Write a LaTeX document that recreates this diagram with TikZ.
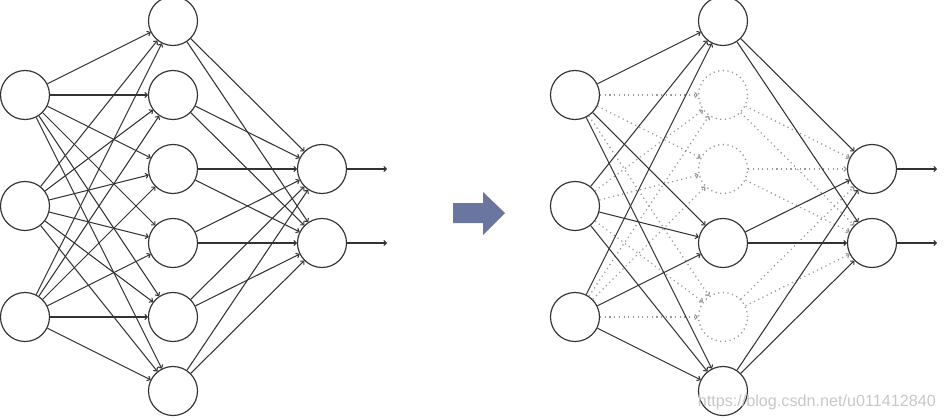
\documentclass[tikz,border=0pt]{standalone}
\usepackage{fontspec}
\setsansfont{Liberation Sans}
\usetikzlibrary{arrows.meta, positioning}
\definecolor{arrowblue}{RGB}{106,117,160}
\tikzset{
  neuron/.style={circle, draw=black!80, line width=1pt, minimum size=1.47cm, inner sep=0pt},
  dropped/.style={neuron, draw=black!40, dash pattern=on 1pt off 3pt, line width=1.2pt},
  link/.style={-{To[length=3pt,width=5pt]}, draw=black!80, line width=0.9pt},
  droplink/.style={link, draw=black!40, dash pattern=on 1pt off 3pt, line width=1.1pt},
}
\begin{document}
\begin{tikzpicture}[x=0.03cm, y=-0.03cm]
            \useasboundingbox (0,0) rectangle (944,420);
            % full network
            \foreach \n/\y in {1/95,2/206,3/317} \node[neuron] (i\n) at (25,\y) {};
            \foreach \n/\y in {1/21,2/95,3/169,4/243,5/317,6/391} \node[neuron] (h\n) at (173,\y) {};
            \foreach \n/\y in {1/169,2/243} {
                \node[neuron] (o\n) at (322,\y) {};
                \coordinate (out\n) at (387,\y);
            }
            \foreach \i in {1,2,3} \foreach \h in {1,...,6} \draw[link] (i\i) -- (h\h);
            \foreach \h in {1,...,6} \foreach \o in {1,2} \draw[link] (h\h) -- (o\o);
            \foreach \o in {1,2} \draw[link] (o\o) -- (out\o);
            % arrow
            \fill[arrowblue] (453,203) -- (483,203) -- (483,192) -- (505,213) -- (483,235) -- (483,223) -- (453,223) -- cycle;
            % thinned network (dropout)
            \foreach \n/\y in {1/95,2/206,3/317} \node[neuron] (ri\n) at (575,\y) {};
            \foreach \n/\y in {1/21,4/243,6/391} \node[neuron] (rh\n) at (723,\y) {};
            \foreach \n/\y in {2/95,3/169,5/317} \node[dropped] (rh\n) at (723,\y) {};
            \foreach \n/\y in {1/169,2/243} {
                \node[neuron] (ro\n) at (872,\y) {};
                \coordinate (rout\n) at (937,\y);
            }
            \foreach \i in {1,2,3} \foreach \h in {2,3,5} \draw[droplink] (ri\i) -- (rh\h);
            \foreach \h in {2,3,5} \foreach \o in {1,2} \draw[droplink] (rh\h) -- (ro\o);
            \foreach \i in {1,2,3} \foreach \h in {1,4,6} \draw[link] (ri\i) -- (rh\h);
            \foreach \h in {1,4,6} \foreach \o in {1,2} \draw[link] (rh\h) -- (ro\o);
            \foreach \o in {1,2} \draw[link] (ro\o) -- (rout\o);
            \node[font=\sffamily\fontsize{13.8}{14}\selectfont, text=black!22, anchor=east, inner sep=0pt] (mark) at (936,402) {https://blog.csdn.net/u011412840};
\end{tikzpicture}
\end{document}
